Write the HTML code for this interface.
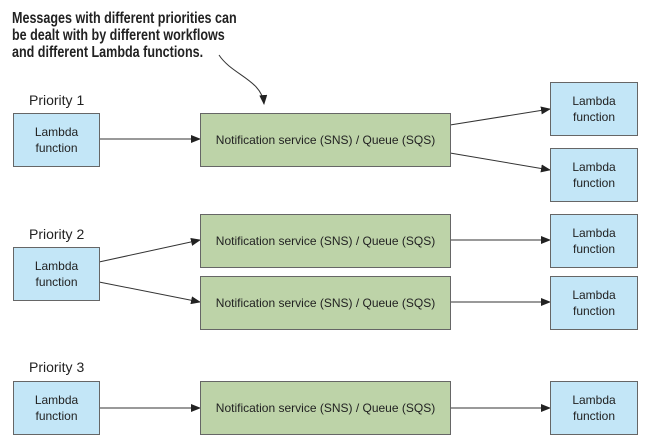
<!DOCTYPE html>
<html><head><style>
body{margin:0;width:652px;height:448px;background:#fff;position:relative;overflow:hidden;font-family:"Liberation Sans",sans-serif}
.b{position:absolute;box-sizing:border-box;border:1.5px solid #666;display:flex;align-items:center;justify-content:center;text-align:center;font-size:12px;line-height:16px;color:#222}
.l{background:#c3e6f7}
.g{background:#bdd3a8}
.p{position:absolute;font-size:14px;color:#222}
</style></head><body>
<div style="position:absolute;left:12px;top:10px;font-weight:bold;font-size:15.5px;line-height:17px;color:#222;transform:scaleX(0.81);transform-origin:0 0;white-space:nowrap">Messages with different priorities can<br>be dealt with by different workflows<br>and different Lambda functions.</div>
<svg width="652" height="448" style="position:absolute;left:0;top:0">
<defs><marker id="a" markerWidth="10" markerHeight="8" refX="9" refY="4" orient="auto" markerUnits="userSpaceOnUse"><path d="M0,0 L10,4 L0,8 z" fill="#222"/></marker></defs>
<g stroke="#333" stroke-width="1" fill="none" marker-end="url(#a)">
<path d="M219,55 C232,75 262,80 264,104"/>
<line x1="99" y1="139" x2="200" y2="139"/>
<line x1="450" y1="125" x2="550" y2="109"/>
<line x1="450" y1="153" x2="550" y2="170"/>
<line x1="99" y1="262" x2="200" y2="240"/>
<line x1="99" y1="282" x2="200" y2="302"/>
<line x1="450" y1="240" x2="550" y2="240"/>
<line x1="450" y1="302" x2="550" y2="302"/>
<line x1="99" y1="408" x2="200" y2="408"/>
<line x1="450" y1="408" x2="550" y2="408"/>
</g></svg>
<div class="p" style="left:29px;top:92px">Priority 1</div>
<div class="p" style="left:29px;top:226px">Priority 2</div>
<div class="p" style="left:29px;top:359px">Priority 3</div>
<div class="b l" style="left:13px;top:113px;width:87px;height:54px">Lambda<br>function</div>
<div class="b l" style="left:13px;top:247px;width:87px;height:54px">Lambda<br>function</div>
<div class="b l" style="left:13px;top:381px;width:87px;height:54px">Lambda<br>function</div>
<div class="b g" style="left:200px;top:113px;width:251px;height:54px">Notification service (SNS) / Queue (SQS)</div>
<div class="b g" style="left:200px;top:214px;width:251px;height:54px">Notification service (SNS) / Queue (SQS)</div>
<div class="b g" style="left:200px;top:276px;width:251px;height:54px">Notification service (SNS) / Queue (SQS)</div>
<div class="b g" style="left:200px;top:381px;width:251px;height:54px">Notification service (SNS) / Queue (SQS)</div>
<div class="b l" style="left:550px;top:82px;width:88px;height:54px">Lambda<br>function</div>
<div class="b l" style="left:550px;top:148px;width:88px;height:54px">Lambda<br>function</div>
<div class="b l" style="left:550px;top:214px;width:88px;height:54px">Lambda<br>function</div>
<div class="b l" style="left:550px;top:276px;width:88px;height:54px">Lambda<br>function</div>
<div class="b l" style="left:550px;top:381px;width:88px;height:54px">Lambda<br>function</div>
</body></html>
